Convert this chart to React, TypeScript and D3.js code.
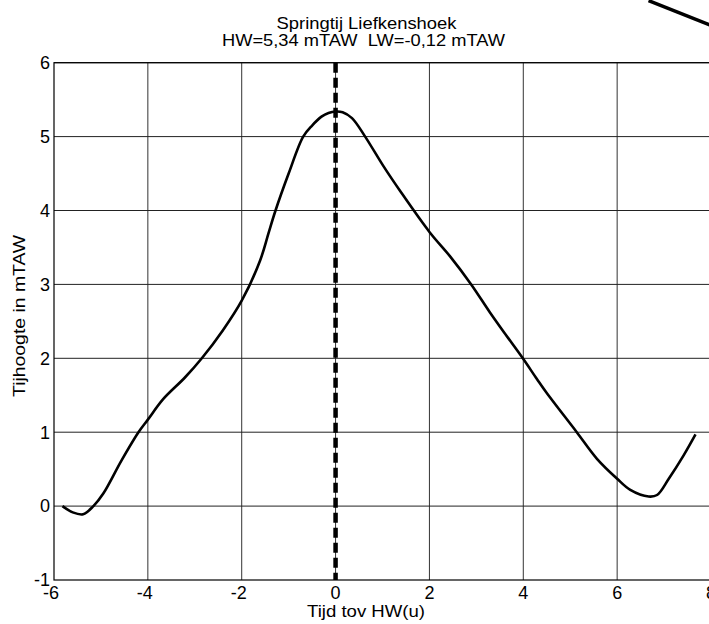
import React from "react";
import * as d3 from "d3";

// tijd t.o.v. HW (uur) en waterhoogte (mTAW)
const tijd = [
  -5.82, -5.6, -5.38, -5.16, -4.95, -4.56, -4.2, -4.0, -3.67, -3.21, -2.85, -2.4, -2.0, -1.61,
  -1.43, -1.29, -1.0, -0.69, -0.5, -0.3, -0.15, 0, 0.15, 0.35, 0.63, 1.02, 1.38, 2.0, 2.44,
  2.89, 3.29, 3.58, 3.99, 4.29, 4.5, 5.14, 5.57, 6.0, 6.28, 6.67, 6.85, 7.1, 7.42, 7.67,
];
const hoogte = [
  0.0, -0.085, -0.11, 0.0, 0.17, 0.62, 1.0, 1.17, 1.45, 1.74, 2.0, 2.38, 2.78, 3.32,
  3.69, 3.98, 4.5, 5.0, 5.15, 5.27, 5.32, 5.34, 5.33, 5.25, 5.0, 4.6, 4.26, 3.71, 3.38,
  3.0, 2.62, 2.36, 2.0, 1.72, 1.53, 1.0, 0.64, 0.37, 0.22, 0.13, 0.15, 0.37, 0.69, 0.97,
];

const xTicks = [-6, -4, -2, 0, 2, 4, 6, 8];
const yTicks = [-1, 0, 1, 2, 3, 4, 5, 6];

// losse lijn rechtsboven in de figuur
const strayT = [6.67, 8.1];
const strayH = [6.84, 6.48];

const titel1 = "Springtij Liefkenshoek";
const titel2 = "HW=5,34 mTAW  LW=-0,12 mTAW";
const xLabel = "Tijd tov HW(u)";
const yLabel = "Tijhoogte in mTAW";

const W = 709;
const H = 624;
const left = 54;
const right = 711;
const top = 62.7;
const bottom = 580;
const font = "'Liberation Sans', Arial, sans-serif";

export default function App() {
  const x = d3.scaleLinear().domain([-6, 8]).range([left, right]);
  const y = d3.scaleLinear().domain([-1, 6]).range([bottom, top]);

  const pts: [number, number][] = tijd.map((t, i) => [t, hoogte[i]]);
  const line = d3
    .line<[number, number]>()
    .x((d) => x(d[0]))
    .y((d) => y(d[1]))
    .curve(d3.curveCatmullRom.alpha(0.5));

  const stray: [number, number][] = strayT.map((t, i) => [t, strayH[i]]);

  return (
    <svg
      width={W}
      height={H}
      style={{ position: "absolute", left: 0, top: 0, background: "#fff" }}
      fontFamily={font}
    >
      <rect width={W} height={H} fill="#fff" />
      {/* grid */}
      {xTicks.slice(1).map((t) => (
        <line key={"gx" + t} x1={x(t)} x2={x(t)} y1={top} y2={bottom} stroke="#333" strokeWidth={1} />
      ))}
      {yTicks.slice(1).map((t) => (
        <line key={"gy" + t} x1={left} x2={right} y1={y(t)} y2={y(t)} stroke="#222" strokeWidth={1} />
      ))}
      {/* axes box */}
      <rect x={left} y={top} width={right - left} height={bottom - top} fill="none" stroke="#000" strokeWidth={1.2} />

      {/* HW-lijn */}
      <line
        x1={x(0)}
        x2={x(0)}
        y1={y(6)}
        y2={y(-1)}
        stroke="#000"
        strokeWidth={4.5}
        strokeDasharray="10,5"
      />

      <path d={line(pts) || ""} fill="none" stroke="#000" strokeWidth={2.6} strokeLinejoin="round" />

      <path d={d3.line()(stray.map((d) => [x(d[0]), y(d[1])])) || ""} stroke="#000" strokeWidth={3.5} fill="none" />

      {/* tick labels */}
      {xTicks.map((t) => (
        <text
          key={"lx" + t}
          x={t < 0 ? x(t) + 5 : x(t)}
          y={598.5}
          fontSize={18}
          textAnchor={t < 0 ? "end" : "middle"}
        >
          {t}
        </text>
      ))}
      {yTicks.map((t) => (
        <text key={"ly" + t} x={50} y={y(t) + 6.3} fontSize={18} textAnchor="end">
          {t}
        </text>
      ))}

      <text x={366.5} y={28.5} fontSize={17} textAnchor="middle" textLength={180} lengthAdjust="spacingAndGlyphs">
        {titel1}
      </text>
      <text x={363.5} y={46} fontSize={17} textAnchor="middle" textLength={283} lengthAdjust="spacingAndGlyphs">
        {titel2.replace(/  /g, " \u00a0")}
      </text>
      <text x={366} y={617} fontSize={17} textAnchor="middle" textLength={118} lengthAdjust="spacingAndGlyphs">
        {xLabel}
      </text>
      <text
        transform={`translate(25,316) rotate(-90)`}
        fontSize={17}
        textAnchor="middle"
        textLength={162}
        lengthAdjust="spacingAndGlyphs"
      >
        {yLabel}
      </text>
    </svg>
  );
}
